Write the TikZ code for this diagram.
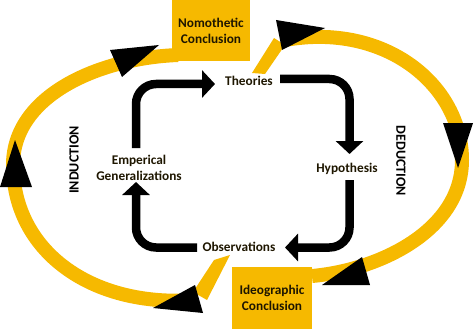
\documentclass[tikz,border=0pt]{standalone}
\usepackage{fontspec}
\setmainfont{Carlito}
\usetikzlibrary{arrows.meta}
\definecolor{gold}{RGB}{246,185,0}
\definecolor{txt}{RGB}{30,22,0}
\begin{document}
\begin{tikzpicture}[x=1pt,y=-1pt,
  blk/.style={line width=8.5pt, -{Triangle[width=27pt,length=13pt]}, rounded corners=20pt, black},
  band/.style={line width=14pt, gold, line cap=butt},
  tri/.style={fill=black},
  lbl/.style={font=\bfseries\fontsize{13.3}{16}\selectfont, align=center, text=txt, inner sep=0pt},
  box/.style={lbl, fill=gold, minimum width=78pt, minimum height=61pt},
  side/.style={font=\bfseries\fontsize{14}{16}\selectfont, inner sep=0pt}
]
\useasboundingbox (0,0) rectangle (474,329);
% yellow bands
\draw[band] (196,300) .. controls (90,308) and (13,250) .. (13,165)
                      .. controls (13,95) and (100,58) .. (178,55);
\draw[band] (285,40) .. controls (385,22) and (462,85) .. (462,160)
                     .. controls (462,230) and (380,270) .. (312,276);
\fill[gold] (252,73) -- (265,74) -- (285,45) -- (274,38) -- cycle;
\fill[gold] (230,255) -- (214,260) -- (193,292) -- (207,300) -- cycle;
% boxes
\node[box] (nomo) at (211,30.5) {Nomothetic\\Conclusion};
\node[box, minimum width=80pt, minimum height=62pt] (ideo) at (272,298) {Ideographic\\Conclusion};
% triangles
\fill[tri] (110,50) -- (159,45) -- (122,77) -- cycle;
\fill[tri] (15,140) -- (0,187) -- (32,187) -- cycle;
\fill[tri] (153,308) -- (195,285) -- (203,313) -- cycle;
\fill[tri] (276,20) -- (325,28) -- (282,50) -- cycle;
\fill[tri] (443,123) -- (473,123) -- (458,168) -- cycle;
\fill[tri] (322,285) -- (362,257) -- (370,285) -- cycle;
% texts
\node[lbl] (th) at (249,81) {Theories};
\node[lbl] (hy) at (347,169) {Hypothesis};
\node[lbl] (ob) at (239,247) {Observations};
\node[lbl] (em) at (139,168) {Emperical\\Generalizations};
\node[side, rotate=90] (ind) at (74,160) {INDUCTION};
\node[side, rotate=-90] (ded) at (401,161) {DEDUCTION};
% black arrows
\coordinate (a1s) at (136,148);
\coordinate (a1e) at (215,84);
\coordinate (a2s) at (280,79);
\coordinate (a2e) at (349.5,154);
\coordinate (a3s) at (349.5,180);
\coordinate (a3e) at (285,247.5);
\coordinate (a4s) at (197,247.5);
\coordinate (a4e) at (136,182);
\draw[blk] (a1s) |- (a1e);
\draw[blk] (a2s) -| (a2e);
\draw[blk] (a3s) |- (a3e);
\draw[blk] (a4s) -| (a4e);
\end{tikzpicture}
\end{document}
